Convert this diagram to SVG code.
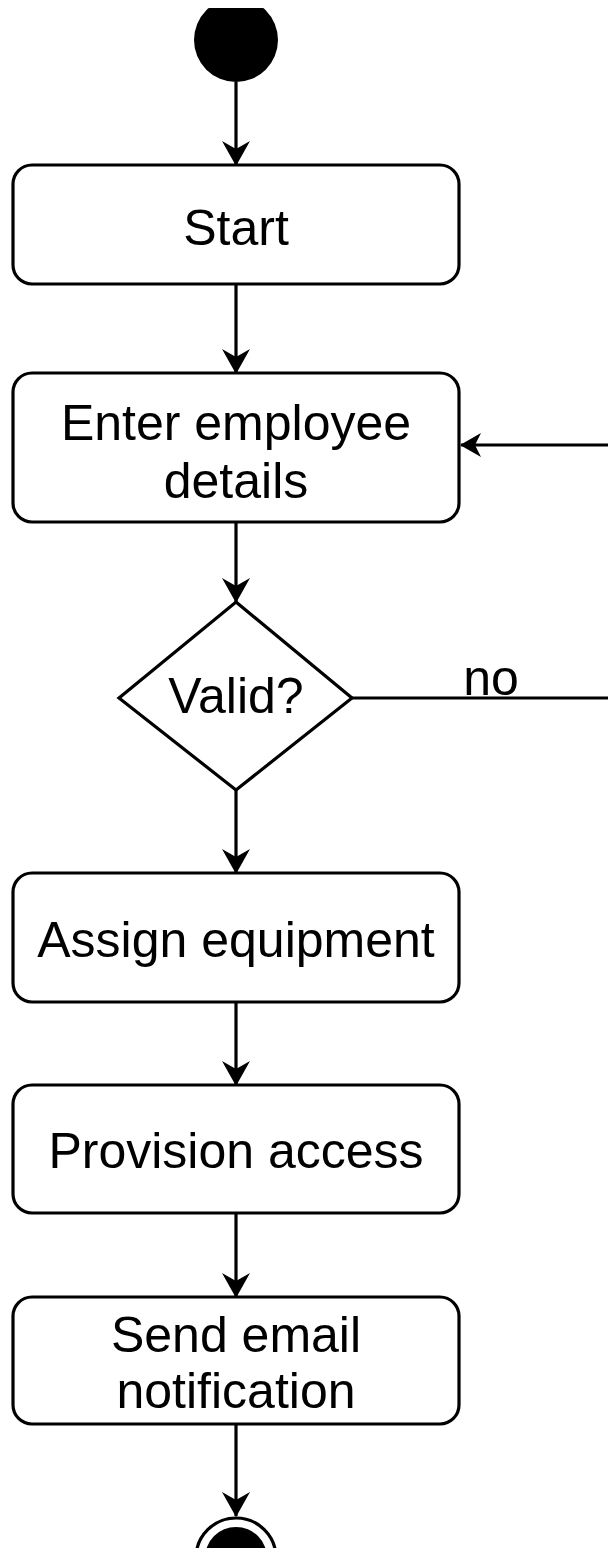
<svg xmlns="http://www.w3.org/2000/svg" width="608" height="1548" viewBox="0 0 608 1548">
  <style>
    .box { fill: #ffffff; stroke: #000000; stroke-width: 3.2; }
    .edge { fill: none; stroke: #000000; stroke-width: 3.2; }
    .label { font-family: "Liberation Sans", Arial, Helvetica, sans-serif; font-size: 50px; fill: #000000; text-anchor: middle; }
  </style>
  <defs>
    <marker id="arrow" viewBox="0 0 25 28" refX="24" refY="14" markerWidth="25" markerHeight="28" markerUnits="userSpaceOnUse" orient="auto">
      <path d="M0,0 L25,14 L0,28 L8,14 Z" fill="#000000"/>
    </marker>
    <marker id="arrowSmall" viewBox="0 0 21 24" refX="20" refY="12" markerWidth="21" markerHeight="24" markerUnits="userSpaceOnUse" orient="auto">
      <path d="M0,0 L21,12 L0,24 L6,12 Z" fill="#000000"/>
    </marker>
    <clipPath id="topClip">
      <rect x="0" y="8" width="608" height="1540"/>
    </clipPath>
  </defs>
  <rect x="0" y="0" width="608" height="1548" fill="#ffffff"/>

  <!-- connectors -->
  <g id="connectors">
    <path class="edge" d="M236,82 V165" marker-end="url(#arrow)"/>
    <path class="edge" d="M236,284 V373" marker-end="url(#arrow)"/>
    <path class="edge" d="M236,522 V602" marker-end="url(#arrow)"/>
    <path class="edge" d="M236,790 V873" marker-end="url(#arrow)"/>
    <path class="edge" d="M236,1002 V1085" marker-end="url(#arrow)"/>
    <path class="edge" d="M236,1213 V1297" marker-end="url(#arrow)"/>
    <path class="edge" d="M236,1424 V1516" marker-end="url(#arrow)"/>
    <!-- retry loop: invalid input goes back to the entry step -->
    <path class="edge" d="M352,698 H625 V445 H461" marker-end="url(#arrowSmall)"/>
    <text class="label" x="491" y="695">no</text>
  </g>

  <!-- initial node -->
  <g id="initial">
    <circle cx="236" cy="40" r="42" fill="#000000" clip-path="url(#topClip)"/>
  </g>

  <g id="start">
    <rect class="box" x="13" y="165" width="446" height="119" rx="19" ry="19"/>
    <text class="label" x="236" y="245">Start</text>
  </g>

  <g id="enter-details">
    <rect class="box" x="13" y="373" width="446" height="149" rx="19" ry="19"/>
    <text class="label" x="236" y="440">Enter employee</text>
    <text class="label" x="236" y="498">details</text>
  </g>

  <g id="valid">
    <path class="box" d="M236,602 L352,698 L236,790 L119,698 Z"/>
    <text class="label" x="236" y="713">Valid?</text>
  </g>

  <g id="assign-equipment">
    <rect class="box" x="13" y="873" width="446" height="129" rx="19" ry="19"/>
    <text class="label" x="236" y="957">Assign equipment</text>
  </g>

  <g id="provision-access">
    <rect class="box" x="13" y="1085" width="446" height="128" rx="19" ry="19"/>
    <text class="label" x="236" y="1168">Provision access</text>
  </g>

  <g id="send-email">
    <rect class="box" x="13" y="1297" width="446" height="127" rx="19" ry="19"/>
    <text class="label" x="236" y="1352">Send email</text>
    <text class="label" x="236" y="1408">notification</text>
  </g>

  <!-- final node -->
  <g id="final">
    <circle cx="236" cy="1558" r="40" fill="#ffffff" stroke="#000000" stroke-width="3.2"/>
    <circle cx="236" cy="1558" r="31" fill="#000000"/>
  </g>
</svg>
